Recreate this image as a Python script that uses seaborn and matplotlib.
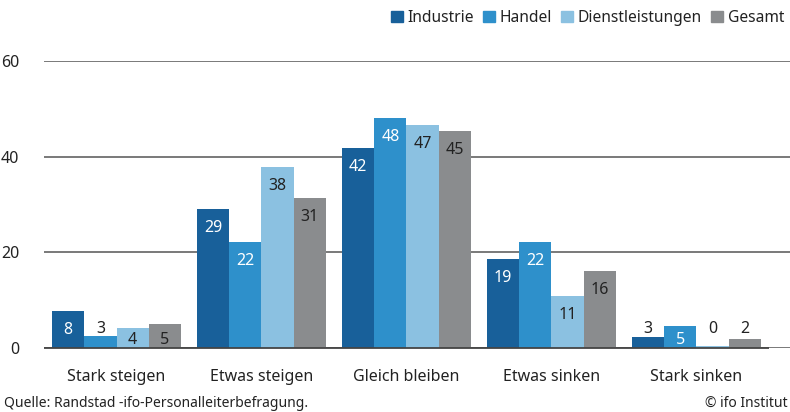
import pandas as pd
import matplotlib.pyplot as plt
import matplotlib.patches as mpatches
import seaborn as sns

# Daten
kategorien = ['Stark steigen', 'Etwas steigen', 'Gleich bleiben', 'Etwas sinken', 'Stark sinken']
sektoren = ['Industrie', 'Handel', 'Dienstleistungen', 'Gesamt']
industrie = [7.7, 29.1, 41.8, 18.6, 2.3]
handel = [2.6, 22.2, 48.1, 22.2, 4.6]
dienstleistungen = [4.2, 37.9, 46.7, 10.9, 0.4]
gesamt = [5.0, 31.4, 45.4, 16.1, 1.9]
labels = {
    'Industrie': ['8', '29', '42', '19', '3'],
    'Handel': ['3', '22', '48', '22', '5'],
    'Dienstleistungen': ['4', '38', '47', '11', '0'],
    'Gesamt': ['5', '31', '45', '16', '2'],
}
farben = ['#18609a', '#2e90cb', '#8bc1e1', '#8a8c8e']
yticks = [0, 20, 40, 60]

werte = {'Industrie': industrie, 'Handel': handel,
         'Dienstleistungen': dienstleistungen, 'Gesamt': gesamt}
df = pd.DataFrame([(k, s, werte[s][i]) for s in sektoren for i, k in enumerate(kategorien)],
                  columns=['Kategorie', 'Sektor', 'Wert'])

sns.set_style('white')
plt.rcParams['font.family'] = ['Noto Sans', 'DejaVu Sans']

fig = plt.figure(figsize=(7.9, 4.12), dpi=100)
ax = fig.add_axes([0.0557, 0.155, 0.9443, 0.697])

sns.barplot(data=df, x='Kategorie', y='Wert', hue='Sektor', order=kategorien,
            hue_order=sektoren, palette=farben, width=0.89, saturation=1,
            linewidth=0, edgecolor='none', legend=False, ax=ax)

ax.set_ylim(0, 60)
ax.set_xlim(-0.5, 4.645)
ax.set_yticks(yticks)
ax.yaxis.grid(True, color='#555555', linewidth=1.1)
ax.set_axisbelow(True)
for s in ax.spines.values():
    s.set_visible(False)
ax.hlines(0, -0.5, 4.5, color='#444444', linewidth=1.3, zorder=5, clip_on=False)
ax.set_xticks([x - 0.5 for x in range(6)], minor=True)
ax.tick_params(axis='x', which='minor', length=6, width=1.1, color='#444444', direction='out')
ax.tick_params(axis='x', which='major', length=0, pad=15, labelsize=11.5, labelcolor='#222222')
ax.tick_params(axis='y', length=0, pad=18, labelsize=11.5, labelcolor='#222222')
ax.set_xlabel('')
ax.set_ylabel('')

# Beschriftungen
for j, (sektor, cont) in enumerate(zip(sektoren, ax.containers)):
    for i, bar in enumerate(cont):
        v = bar.get_height()
        xc = bar.get_x() + bar.get_width() / 2
        if v < 3.5:
            y = 4.0
            c = '#222222'
        else:
            y = max(v - 4.0, 1.8)
            c = 'white' if j < 2 else '#222222'
        ax.text(xc, y, labels[sektor][i], ha='center', va='center', fontsize=11.5, color=c, zorder=6)

handles = [mpatches.Patch(color=f, label=s) for f, s in zip(farben, sektoren)]
fig.legend(handles=handles, loc='upper right', bbox_to_anchor=(1.01, 1.01), ncol=4, frameon=False,
           handlelength=0.75, handleheight=0.75, handletextpad=0.3, columnspacing=0.6,
           fontsize=11.2, labelcolor='#222222')

fig.text(0.005, 0.013, 'Quelle: Randstad -ifo-Personalleiterbefragung.', fontsize=10, color='#222222')
fig.text(0.997, 0.013, '© ifo Institut', fontsize=10, color='#222222', ha='right')

fig.savefig('out.png', dpi=100)
